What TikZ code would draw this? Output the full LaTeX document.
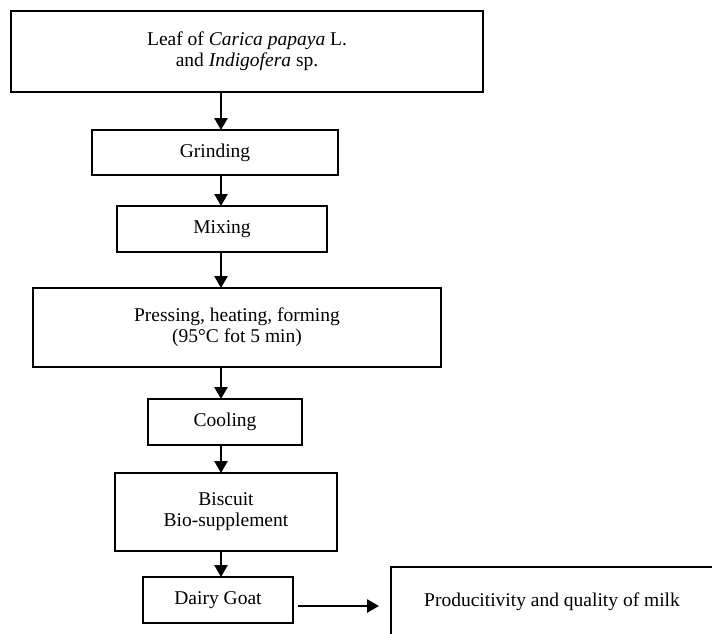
\documentclass[tikz,border=0pt]{standalone}
\usepackage{fontspec}
\setmainfont{Liberation Serif}
\usetikzlibrary{positioning,arrows.meta}
\begin{document}
\begin{tikzpicture}[node distance=30pt, auto,
    box/.style={draw, line width=2.7pt, inner sep=0pt, outer sep=0pt, align=center, font=\fontsize{19.5}{21}\selectfont},
    arr/.style={line width=2.6pt, -{Triangle[length=12pt,width=13pt]}}]
            \clip (0,0) rectangle (712pt,-633pt);
            \node(leaf) [box, minimum width=472pt, minimum height=81pt] at (247pt,-51.5pt) {Leaf of \textit{Carica papaya} L.\\and \textit{Indigofera} sp.};
            \node(grind) [box, below=38pt of leaf, xshift=-32pt, minimum width=246pt, minimum height=45pt] {Grinding};
            \node(mix) [box, below=31pt of grind, xshift=7pt, minimum width=210pt, minimum height=46pt] {Mixing};
            \node(press) [box, below=36pt of mix, xshift=15pt, minimum width=408pt, minimum height=79pt] {Pressing, heating, forming\\(95°C fot 5 min)};
            \node(cool) [box, below=32pt of press, xshift=-12pt, minimum width=154pt, minimum height=46pt] {Cooling};
            \node(bisc) [box, below=28pt of cool, xshift=1pt, minimum width=222pt, minimum height=78pt] {Biscuit\\Bio-supplement};
            \node(goat) [box, below=26pt of bisc, xshift=-8pt, minimum width=150pt, minimum height=46pt] {Dairy Goat};
            \node(milk) [box, right=98pt of goat, yshift=-6pt, minimum width=400pt, minimum height=78pt] {};
            \node(milktxt) [right=33pt of milk.west, anchor=base west, inner sep=0pt, font=\fontsize{19.5}{21}\selectfont] {Producitivity and quality of milk};
            \coordinate (spine) at (221pt,0);
            \draw[arr](leaf.south -| spine) -- (grind.north -| spine);
            \draw[arr](grind.south -| spine) -- (mix.north -| spine);
            \draw[arr](mix.south -| spine) -- (press.north -| spine);
            \draw[arr](press.south -| spine) -- (cool.north -| spine);
            \draw[arr](cool.south -| spine) -- (bisc.north -| spine);
            \draw[arr](bisc.south -| spine) -- (goat.north -| spine);
            \draw[arr, shorten <=5pt, shorten >=12pt](goat.east |- milk.west) -- (milk.west);
            \end{tikzpicture}
\end{document}
